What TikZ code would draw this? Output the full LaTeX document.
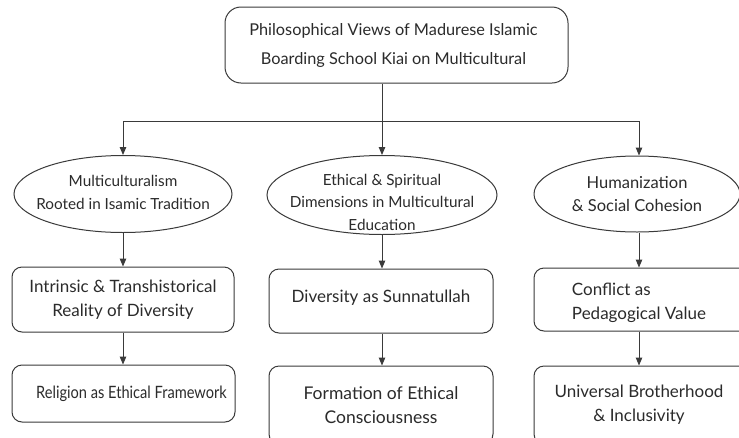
\documentclass[tikz,border=0pt]{standalone}
\usepackage{fontspec}
\setmainfont{Lato}
\usetikzlibrary{shapes.geometric,arrows.meta}
\definecolor{ink}{HTML}{3A3A3A}
\definecolor{txt}{HTML}{2B2B2B}
\begin{document}
\begin{tikzpicture}[x=1pt,y=-1pt,
  line/.style={draw=ink, line width=1pt},
  arr/.style={line, -{Triangle[length=8pt,width=6.5pt]}},
  rbox/.style={draw=ink, line width=1pt, rounded corners=10pt, inner sep=0pt},
  oval/.style={ellipse, draw=ink, line width=1pt, inner sep=0pt},
  ltext/.style={text=txt, align=center, inner sep=0pt, font=\fontsize{17}{24}\selectfont},
  etext/.style={ltext, font=\fontsize{15.3}{23}\selectfont}]
\useasboundingbox (0,0) rectangle (739,437);
\clip (0,0) rectangle (739,437);
\fill[white] (0,0) rectangle (739,437);

% top
\node[rbox, rounded corners=16pt, minimum width=343pt, minimum height=76pt,
  label={[ltext, font=\fontsize{16.3}{29}\selectfont, xshift=-3pt]center:Philosophical Views of Madurese Islamic\\Boarding School Kiai on Multicultural}] (top) at (396.5,45) {};

% junctions
\coordinate (j) at (382,121);
\coordinate (jl) at (123,121);
\coordinate (jr) at (639,121);

% ellipses
\node[oval, minimum width=218pt, minimum height=77pt,
  label={[etext, yshift=2pt]center:Multiculturalism\\Rooted in Isamic Tradition}] (e1) at (123,194) {};
\node[oval, minimum width=230pt, minimum height=79pt,
  label={[etext, yshift=-7pt, font=\fontsize{15.3}{22.5}\selectfont]center:Ethical \& Spiritual\\Dimensions in Multicultural\\Education}] (e2) at (382,195) {};
\node[oval, minimum width=206pt, minimum height=76pt,
  label={[etext, font=\fontsize{16.5}{22.5}\selectfont]center:Humanization\\\& Social Cohesion}] (e3) at (637,194) {};

% row 1 boxes
\node[rbox, minimum width=222pt, minimum height=65pt,
  label={[ltext]center:Intrinsic \& Transhistorical\\Reality of Diversity}] (b1) at (123,299.5) {};
\node[rbox, minimum width=224pt, minimum height=64pt,
  label={[ltext, yshift=3pt]center:Diversity as Sunnatullah}] (b2) at (381,301) {};
\node[rbox, minimum width=222pt, minimum height=63pt,
  label={[ltext, align=left, xshift=-6pt, yshift=-3pt]center:Conflict as\\Pedagogical Value}] (b3) at (645,299.5) {};

% row 2 boxes
\node[rbox, minimum width=223pt, minimum height=57pt,
  label={[ltext, xshift=8pt]center:\scalebox{0.86}[1]{Religion as Ethical Framework}}] (r1) at (123.5,393.5) {};
\node[rbox, minimum width=224pt, minimum height=78pt,
  label={[ltext, font=\fontsize{17.5}{24}\selectfont]center:Formation of Ethical\\Consciousness}] (r2) at (381,405) {};
\node[rbox, minimum width=222pt, minimum height=78pt,
  label={[ltext, xshift=-6pt]center:Universal Brotherhood\\\& Inclusivity}] (r3) at (645,405) {};

% connectors
\draw[line] (top.south -| j) -- (j);
\draw[line] (jl) -- (jr);
\draw[arr] (jl) -- (e1.north);
\draw[arr] (j) -- (e2.north);
\draw[arr] (jr) -- (jr |- e3.north);
\draw[arr] (e1.south) -- (e1.south |- b1.north);
\draw[arr] (e2.south) -- (e2.south |- b2.north);
\draw[arr] (jr |- e3.south) -- (jr |- b3.north);
\draw[arr] (b1.south) -- (b1.south |- r1.north);
\draw[arr] (e2.south |- b2.south) -- (e2.south |- r2.north);
\draw[arr] (jr |- b3.south) -- (jr |- r3.north);
\end{tikzpicture}
\end{document}
